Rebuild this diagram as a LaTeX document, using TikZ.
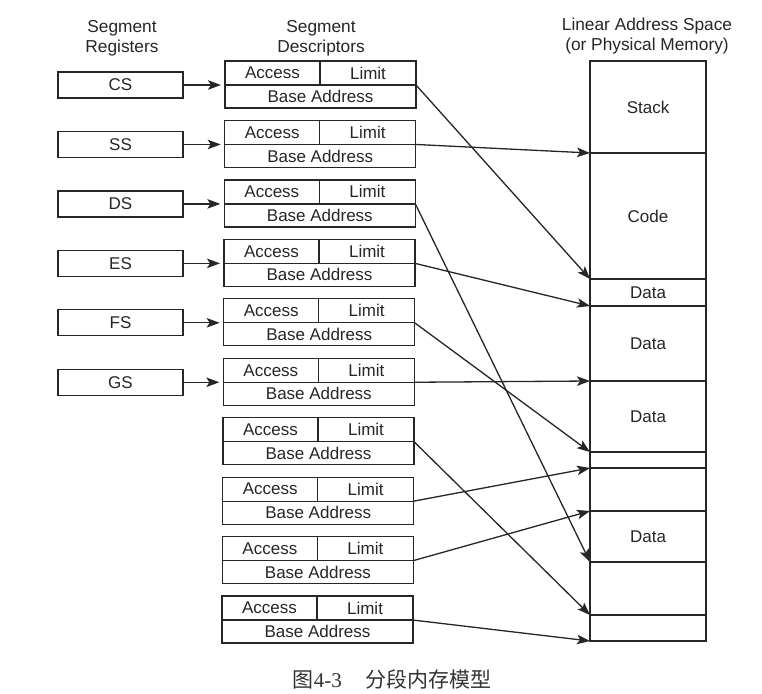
\documentclass[tikz,border=0pt]{standalone}
\usepackage{fontspec}
\setmainfont{Liberation Sans}
\newfontfamily\cjkfont{Noto Sans CJK SC}
\newfontfamily\serffont{Liberation Serif}
\usetikzlibrary{arrows.meta}
\begin{document}
\begin{tikzpicture}[x=1pt,y=-1pt,
  cell/.style={draw=black!85, line width=1.3pt, inner sep=0pt, outer sep=0pt,
    font=\fontsize{17}{17}\selectfont, text=black!85},
  head/.style={align=center, font=\fontsize{17.3}{20}\selectfont, text=black!85, inner sep=0pt},
  arr/.style={draw=black!85, line width=1.3pt, -{Stealth[length=13pt,width=9.5pt,inset=3pt]}}]
\fill[white] (0,0) rectangle (762,693);
\useasboundingbox (0,0) rectangle (762,693);
% headings
\node[head] (hreg) at (122,38) {Segment\\Registers};
\node[head] (hdesc) at (321,38) {Segment\\Descriptors};
\node[head] (hmem) at (647,36) {Linear Address Space\\(or Physical Memory)};
% descriptors
\foreach \i in {0,...,9} {
  \pgfmathsetmacro\T{61+59.45*\i}
  \pgfmathsetmacro\L{225-0.33*\i}
  \node[cell, minimum width=95pt, minimum height=24pt, anchor=north west] (a\i) at (\L,\T) {Access};
  \node[cell, minimum width=96pt, minimum height=24pt, anchor=north west] (l\i) at (a\i.north east) {Limit};
  \node[cell, minimum width=191pt, minimum height=23pt, anchor=north west] (b\i) at (a\i.south west) {Base Address};
}
% registers
\foreach \i/\n in {0/CS,1/SS,2/DS,3/ES,4/FS,5/GS} {
  \pgfmathsetmacro\M{61+59.45*\i+24}
  \node[cell, minimum width=125pt, minimum height=26pt, anchor=west] (r\i) at (58,\M) {\n};
  \draw[arr, shorten >=4pt] (r\i.east) -- (b\i.north west);
}
% memory
\foreach \k/\ta/\tb/\lab in {0/61/153/Stack, 1/153/279/Code, 2/279/306/Data, 3/306/381/Data, 4/381/452/Data, 5/452/468/{}, 6/468/511/{}, 7/511/562/Data, 8/562/615/{}, 9/615/641/{}} {
  \pgfmathsetmacro\h{\tb-\ta}
  \node[cell, minimum width=116pt, minimum height=\h pt, anchor=north west] (m\k) at (590,\ta) {\lab};
}
% connectors
\foreach \i/\t in {0/m2.north west, 1/m1.north west, 2/m8.north west, 3/m3.north west, 4/m5.north west, 5/m4.north west, 6/m9.north west, 7/m6.north west, 8/m7.north west, 9/m9.south west}
  \draw[arr] (b\i.north east) -- (\t);
% caption
\node[inner sep=0pt, text=black!80] (cap) at (392,679) {\fontsize{21}{21}\selectfont\cjkfont 图\serffont 4-3\hspace{1.1em}\cjkfont 分段内存模型};
\end{tikzpicture}
\end{document}
